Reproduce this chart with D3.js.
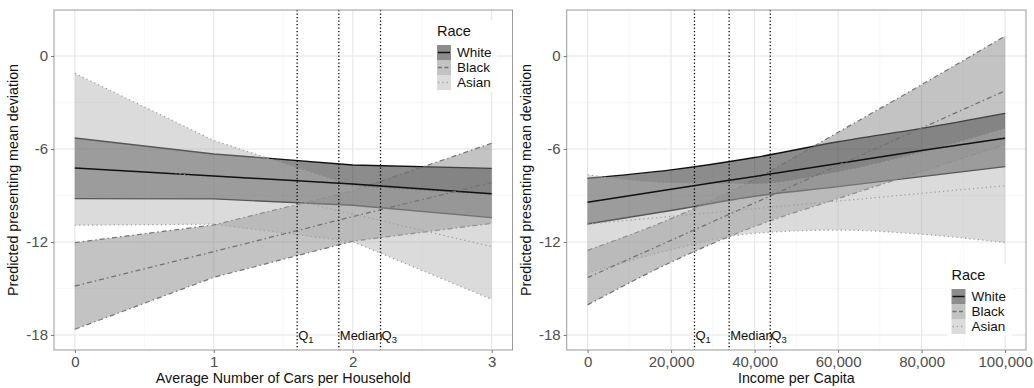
<!DOCTYPE html>
<html>
<head>
<meta charset="utf-8">
<script src="https://cdn.jsdelivr.net/npm/d3@7"></script>
<style>
  body { margin: 0; background: #fff; }
  text { font-family: "Liberation Sans", Arial, sans-serif; }
</style>
</head>
<body>
<div id="chart"></div>
<script>
// values
var raceNames = ["White", "Black", "Asian"];

var carsX = [0, 1, 2, 3];
var carsWhiteFit = [-7.23, -7.74, -8.26, -8.88];
var carsWhiteLo  = [-9.2, -9.22, -9.63, -10.43];
var carsWhiteHi  = [-5.29, -6.32, -7.03, -7.25];
var carsBlackFit = [-14.84, -12.62, -10.36, -8.17];
var carsBlackLo  = [-17.63, -14.28, -11.95, -10.8];
var carsBlackHi  = [-12.04, -10.9, -8.7, -5.63];
var carsAsianFit = [-6.02, -8.1, -10.2, -12.3];
var carsAsianLo  = [-10.92, -10.85, -11.98, -15.7];
var carsAsianHi  = [-1.12, -5.45, -8.4, -8.97];

var incomeX = [0, 20000, 40000, 60000, 80000, 100000];
var incomeWhiteFit = [-9.44, -8.6, -7.77, -6.93, -6.1, -5.3];
var incomeWhiteLo  = [-10.84, -9.97, -9.05, -8.43, -7.78, -7.14];
var incomeWhiteHi  = [-7.89, -7.35, -6.55, -5.53, -4.67, -3.7];
var incomeBlackFit = [-14.3, -11.89, -9.48, -7.06, -4.65, -2.24];
var incomeBlackLo  = [-16.06, -13.3, -11.0, -9.2, -7.45, -5.7];
var incomeBlackHi  = [-12.54, -10.49, -7.95, -4.92, -1.85, 1.29];
var incomeAsianFit = [-10.84, -10.35, -9.85, -9.36, -8.86, -8.37];
var incomeAsianLo  = [-14.02, -12.5, -11.44, -11.23, -11.5, -12.04];
var incomeAsianHi  = [-7.66, -8.2, -8.26, -7.49, -6.22, -4.7];

var yTicks = [0, -6, -12, -18];
var yMinor = [-3, -9, -15];
var carsTicks = [0, 1, 2, 3];
var carsMinor = [0.5, 1.5, 2.5];
var incomeTicks = [0, 20000, 40000, 60000, 80000, 100000];
var incomeMinor = [10000, 30000, 50000, 70000, 90000];

var carsQuartiles = [1.6, 1.9, 2.2];
var incomeQuartiles = [25600, 33900, 43750];
var quartileLabels = [["Q", "1"], ["Median", ""], ["Q", "3"]];

// look of each group
var raceFill = {White: "#000000", Black: "#7a7a7a", Asian: "#b0b0b0"};
var raceLine = {White: "#111111", Black: "#737373", Asian: "#a0a0a0"};
var raceDash = {White: null, Black: "5,3,1.5,3", Asian: "1.3,3"};
var fillOpacity = 0.45;

var width = 1034, height = 388;

var svg = d3.select("#chart")
  .append("svg")
    .attr("width", width)
    .attr("height", height)
    .style("background", "#fff");

function makeSeries(xs, fit, lo, hi) {
  return xs.map(function(x, i) { return {x: x, fit: fit[i], lo: lo[i], hi: hi[i]}; });
}

drawPanel({
  left: 54, right: 512.5, top: 10, bottom: 350,
  xDomain: [-0.15, 3.15],
  xTicks: carsTicks, xMinor: carsMinor,
  xFormat: d3.format("d"),
  xTitle: "Average Number of Cars per Household",
  yTitleX: 18,
  curve: d3.curveLinear,
  series: {
    White: makeSeries(carsX, carsWhiteFit, carsWhiteLo, carsWhiteHi),
    Black: makeSeries(carsX, carsBlackFit, carsBlackLo, carsBlackHi),
    Asian: makeSeries(carsX, carsAsianFit, carsAsianLo, carsAsianHi)
  },
  quartiles: carsQuartiles,
  legend: {x: 437, y: 22}
});

drawPanel({
  left: 566.7, right: 1026, top: 10, bottom: 350,
  xDomain: [-5000, 105000],
  xTicks: incomeTicks, xMinor: incomeMinor,
  xFormat: d3.format(","),
  xTitle: "Income per Capita",
  yTitleX: 531,
  curve: d3.curveMonotoneX,
  series: {
    White: makeSeries(incomeX, incomeWhiteFit, incomeWhiteLo, incomeWhiteHi),
    Black: makeSeries(incomeX, incomeBlackFit, incomeBlackLo, incomeBlackHi),
    Asian: makeSeries(incomeX, incomeAsianFit, incomeAsianLo, incomeAsianHi)
  },
  quartiles: incomeQuartiles,
  legend: {x: 951.5, y: 266}
});

function drawPanel(p) {
  var x = d3.scaleLinear().domain(p.xDomain).range([p.left, p.right]);
  var y = d3.scaleLinear().domain([-18.97, 2.97]).range([p.bottom, p.top]);

  var g = svg.append("g");

  // grid
  g.selectAll(".ymin").data(yMinor).enter().append("line")
    .attr("x1", p.left).attr("x2", p.right)
    .attr("y1", function(d){ return y(d); }).attr("y2", function(d){ return y(d); })
    .attr("stroke", "#f2f2f2").attr("stroke-width", 0.6);
  g.selectAll(".xmin").data(p.xMinor).enter().append("line")
    .attr("y1", p.top).attr("y2", p.bottom)
    .attr("x1", function(d){ return x(d); }).attr("x2", function(d){ return x(d); })
    .attr("stroke", "#f2f2f2").attr("stroke-width", 0.6);
  g.selectAll(".ymaj").data(yTicks).enter().append("line")
    .attr("x1", p.left).attr("x2", p.right)
    .attr("y1", function(d){ return y(d); }).attr("y2", function(d){ return y(d); })
    .attr("stroke", "#e6e6e6").attr("stroke-width", 1.1);
  g.selectAll(".xmaj").data(p.xTicks).enter().append("line")
    .attr("y1", p.top).attr("y2", p.bottom)
    .attr("x1", function(d){ return x(d); }).attr("x2", function(d){ return x(d); })
    .attr("stroke", "#e6e6e6").attr("stroke-width", 1.1);

  var area = d3.area().curve(p.curve)
    .x(function(d){ return x(d.x); })
    .y0(function(d){ return y(d.lo); })
    .y1(function(d){ return y(d.hi); });
  var lineOf = function(key) {
    return d3.line().curve(p.curve)
      .x(function(d){ return x(d.x); })
      .y(function(d){ return y(d[key]); });
  };

  // ribbons with their outlines
  raceNames.forEach(function(r) {
    var s = p.series[r];
    g.append("path").datum(s)
      .attr("d", area)
      .attr("fill", raceFill[r])
      .attr("fill-opacity", fillOpacity);
    ["lo", "hi"].forEach(function(k) {
      g.append("path").datum(s)
        .attr("d", lineOf(k))
        .attr("fill", "none")
        .attr("stroke", raceLine[r])
        .attr("stroke-width", r == "White" ? 1.4 : 1.2)
        .attr("stroke-dasharray", raceDash[r]);
    });
  });
  // fitted lines
  raceNames.forEach(function(r) {
    g.append("path").datum(p.series[r])
      .attr("d", lineOf("fit"))
      .attr("fill", "none")
      .attr("stroke", raceLine[r])
      .attr("stroke-width", r == "White" ? 1.5 : 1.3)
      .attr("stroke-dasharray", raceDash[r]);
  });

  // quartile markers
  g.selectAll(".q").data(p.quartiles).enter().append("line")
    .attr("x1", function(d){ return x(d); }).attr("x2", function(d){ return x(d); })
    .attr("y1", p.top).attr("y2", p.bottom)
    .attr("stroke", "#000").attr("stroke-width", 1.3)
    .attr("stroke-dasharray", "1.3,2.2");
  var ql = g.selectAll(".ql").data(p.quartiles).enter().append("text")
    .attr("x", function(d){ return x(d) + 1; })
    .attr("y", y(-18))
    .attr("dy", "0.36em")
    .attr("font-size", "13px")
    .attr("fill", "#111");
  ql.append("tspan").text(function(d, i){ return quartileLabels[i][0]; });
  ql.append("tspan")
    .attr("font-size", "9.5px").attr("dy", "3")
    .text(function(d, i){ return quartileLabels[i][1]; });

  // legend
  var lg = g.append("g").attr("transform", "translate(" + p.legend.x + "," + p.legend.y + ")");
  lg.append("rect").attr("x", -4).attr("y", -2).attr("width", 64).attr("height", 72).attr("fill", "#fff");
  lg.append("text").attr("x", 0).attr("y", 14).attr("font-size", "14.5px").attr("fill", "#111").text("Race");
  raceNames.forEach(function(r, i) {
    var ky = 23 + i * 15;
    lg.append("rect").attr("x", 0).attr("y", ky).attr("width", 14).attr("height", 15)
      .attr("fill", raceFill[r]).attr("fill-opacity", fillOpacity);
    lg.append("line").attr("x1", 1).attr("x2", 13).attr("y1", ky + 7.5).attr("y2", ky + 7.5)
      .attr("stroke", raceLine[r]).attr("stroke-width", 1.5)
      .attr("stroke-dasharray", r == "Black" ? "4,2.5" : raceDash[r]);
    lg.append("text").attr("x", 20).attr("y", ky + 12).attr("font-size", "13.5px")
      .attr("fill", "#111").text(r);
  });

  // panel border
  g.append("rect")
    .attr("x", p.left).attr("y", p.top)
    .attr("width", p.right - p.left).attr("height", p.bottom - p.top)
    .attr("fill", "none").attr("stroke", "#9a9a9a").attr("stroke-width", 1);

  // axes
  var ya = g.append("g").attr("transform", "translate(" + p.left + ",0)")
    .call(d3.axisLeft(y).tickValues(yTicks).tickSize(3).tickPadding(3).tickFormat(d3.format("d")));
  var xa = g.append("g").attr("transform", "translate(0," + p.bottom + ")")
    .call(d3.axisBottom(x).tickValues(p.xTicks).tickSize(3).tickPadding(3).tickFormat(p.xFormat));
  [ya, xa].forEach(function(a) {
    a.select(".domain").remove();
    a.selectAll(".tick line").attr("stroke", "#777");
    a.selectAll(".tick text")
      .attr("font-family", "Liberation Sans, Arial, sans-serif")
      .attr("font-size", "15px").attr("fill", "#4d4d4d");
  });
  ya.selectAll(".tick text").text(function(d){ return d == 0 ? "0" : "-" + Math.abs(d); });

  // titles
  g.append("text")
    .attr("x", (p.left + p.right) / 2).attr("y", 383)
    .attr("text-anchor", "middle").attr("font-size", "14.3px").attr("fill", "#111")
    .text(p.xTitle);
  g.append("text")
    .attr("transform", "translate(" + p.yTitleX + "," + (p.top + p.bottom) / 2 + ") rotate(-90)")
    .attr("text-anchor", "middle").attr("font-size", "14.3px").attr("fill", "#111")
    .text("Predicted presenting mean deviation");
}
</script>
</body>
</html>
